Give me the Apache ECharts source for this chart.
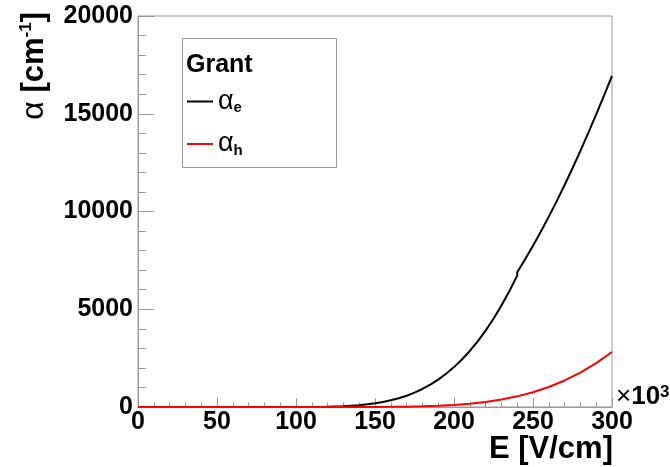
<!DOCTYPE html>
<html>
<head>
<meta charset="utf-8">
<script src="https://cdn.jsdelivr.net/npm/echarts@6/dist/echarts.min.js"></script>
<style>
  html, body { margin: 0; padding: 0; background: #fff; }
  #chart { width: 670px; height: 467px; }
</style>
</head>
<body>
<div id="chart"></div>
<script>
// E field in units of 10^3 V/cm, alpha in cm^-1
const fieldE = [0, 50, 100, 110, 120, 130, 140, 145, 150, 155, 160, 165, 170, 175, 180, 185, 190, 195,
  200, 205, 210, 215, 220, 225, 230, 235, 240, 240, 245, 250, 255, 260, 265, 270, 275, 280, 285, 290, 295, 300];
const alphaE = [0, 0, 2, 6, 17, 43, 95, 135, 188, 256, 342, 448, 578, 735, 922, 1143, 1401, 1699,
  2041, 2429, 2867, 3361, 3909, 4515, 5188, 5920, 6722, 6888, 7552, 8246, 8977, 9737, 10530, 11356, 12213, 13101,
  14020, 14965, 15940, 16941];
const fieldH = [0, 100, 150, 160, 170, 180, 190, 200, 210, 220, 230, 240, 250, 260, 270, 280, 290, 300];
const alphaH = [0, 0, 4, 9, 19, 35, 63, 105, 169, 258, 382, 545, 757, 1024, 1357, 1760, 2243, 2812];
const xTicks = { min: 0, max: 300, step: 50 };
const yTicks = { min: 0, max: 20000, step: 5000 };

const font = "'Liberation Sans', Arial, sans-serif";
const chart = echarts.init(document.getElementById('chart'));

const pairs = (xs, ys) => xs.map((x, i) => [x, ys[i]]);

const option = {
  animation: false,
  backgroundColor: '#fff',
  grid: {
    left: 138, right: 58, top: 16, bottom: 60,
    show: true, borderColor: '#999', borderWidth: 1,
    containLabel: false, outerBoundsMode: 'none'
  },
  legend: {
    left: 187, top: 88,
    orient: 'vertical',
    icon: 'rect',
    itemWidth: 26, itemHeight: 2,
    itemGap: 15,
    padding: 0,
    selectedMode: false,
    formatter: name => '{a|α}{s|' + name.slice(1) + '}',
    textStyle: {
      color: '#000',
      rich: {
        a: { fontFamily: font, fontSize: 27, lineHeight: 28, color: '#000' },
        s: { fontFamily: font, fontSize: 15, fontWeight: 'bold', lineHeight: 15, verticalAlign: 'bottom', color: '#000' }
      }
    },
    data: ['αe', 'αh']
  },
  xAxis: {
    type: 'value',
    min: xTicks.min, max: xTicks.max, interval: xTicks.step,
    splitLine: { show: false },
    axisLine: { show: true, lineStyle: { color: '#999', width: 1 } },
    axisTick: { inside: true, length: 9, lineStyle: { color: '#999' } },
    minorTick: { show: true, splitNumber: 5, length: 4.5, lineStyle: { color: '#999' } },
    axisLabel: { margin: 3, color: '#000', fontFamily: font, fontWeight: 'bold', fontSize: 25,
      formatter: v => String(v) }
  },
  yAxis: {
    type: 'value',
    min: yTicks.min, max: yTicks.max, interval: yTicks.step,
    splitLine: { show: false },
    axisLine: { show: true, lineStyle: { color: '#999', width: 1 } },
    axisTick: { inside: true, length: 16, lineStyle: { color: '#999' } },
    minorTick: { show: true, splitNumber: 5, length: 8, lineStyle: { color: '#999' } },
    axisLabel: { margin: 5, color: '#000', fontFamily: font, fontWeight: 'bold', fontSize: 25,
      formatter: v => String(v) }
  },
  graphic: [
    {
      type: 'rect', z: 0,
      shape: { x: 182.5, y: 38.5, width: 154, height: 129 },
      style: { fill: '#fff', stroke: '#999', lineWidth: 1 }
    },
    {
      type: 'text', z: 10,
      style: { x: 186, y: 65, text: 'Grant', verticalAlign: 'middle', fill: '#000',
        font: 'bold 25px ' + font }
    },
    {
      type: 'text', z: 10,
      x: 34, y: 12, rotation: Math.PI / 2,
      style: {
        text: '{a|α}{b| [cm}{p|-1}{b|]}',
        align: 'right', verticalAlign: 'middle',
        rich: {
          a: { fontFamily: font, fontSize: 32, lineHeight: 32, fill: '#000' },
          b: { fontFamily: font, fontSize: 31, fontWeight: 'bold', lineHeight: 32, fill: '#000' },
          p: { fontFamily: font, fontSize: 17, fontWeight: 'bold', lineHeight: 17, verticalAlign: 'top', fill: '#000' }
        }
      }
    },
    {
      type: 'text', z: 10,
      style: { x: 613, y: 449, text: 'E [V/cm]', align: 'right', verticalAlign: 'middle', fill: '#000',
        font: 'bold 31px ' + font }
    },
    {
      type: 'text', z: 10,
      style: {
        x: 616, y: 410, text: '{x|×}{n|10}{p|3}', verticalAlign: 'bottom',
        rich: {
          x: { fontFamily: font, fontSize: 26, lineHeight: 26, fill: '#000' },
          n: { fontFamily: font, fontSize: 26, fontWeight: 'bold', lineHeight: 26, fill: '#000' },
          p: { fontFamily: font, fontSize: 17, fontWeight: 'bold', lineHeight: 17, verticalAlign: 'top', fill: '#000' }
        }
      }
    }
  ],
  series: [
    {
      name: 'αe', type: 'line', data: pairs(fieldE, alphaE),
      symbol: 'none', color: '#000', lineStyle: { color: '#000', width: 2 },
      emphasis: { disabled: true }
    },
    {
      name: 'αh', type: 'line', data: pairs(fieldH, alphaH),
      symbol: 'none', color: '#ff0000', lineStyle: { color: '#ff0000', width: 2 },
      emphasis: { disabled: true }
    }
  ]
};
chart.setOption(option);
</script>
</body>
</html>
